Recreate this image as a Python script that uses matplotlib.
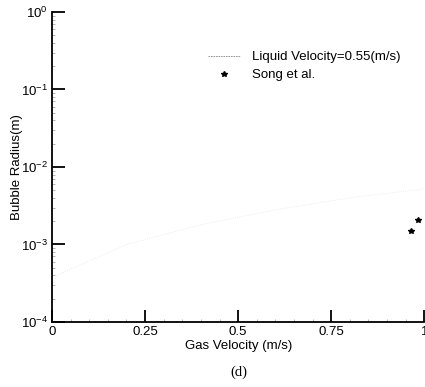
import numpy as np
import matplotlib
matplotlib.use("Agg")
import matplotlib.pyplot as plt
from matplotlib.ticker import LogLocator, LogFormatterMathtext, FixedLocator
from matplotlib.legend_handler import HandlerLine2D

plt.rcParams['font.family'] = ['Liberation Sans', 'DejaVu Sans']
plt.rcParams['mathtext.default'] = 'regular'

# model curve (very faint in the scan)
gas_vel = [0.0, 0.013, 0.2, 0.4, 0.6, 0.815, 1.0]
radius = [3.0e-4, 4.0e-4, 1.0e-3, 1.8e-3, 2.8e-3, 4.1e-3, 5.2e-3]

# Song et al. experiment
song_x = [0.965, 0.984]
song_y = [1.49e-3, 2.08e-3]

xticks = [0, 0.25, 0.5, 0.75, 1]
xticklabels = ['0', '0.25', '0.5', '0.75', '1']


class LeftMarker(HandlerLine2D):
    # marker sits at the left of the legend handle, as in the scan
    def get_xdata(self, legend, xdescent, ydescent, width, height, fontsize):
        xdata, _ = super().get_xdata(legend, xdescent, ydescent, width, height, fontsize)
        return xdata, np.array([-xdescent + 0.15 * width])


fig = plt.figure(figsize=(4.25, 3.87), dpi=100)
ax = fig.add_axes([0.1224, 0.168, 0.876, 0.801])

liq, = ax.plot(gas_vel, radius, color='#e8e8e8', lw=0.6, ls=':',
               label='Liquid Velocity=0.55(m/s)')
song, = ax.plot(song_x, song_y, ls='none', marker='*', ms=4, color='black',
                label='Song et al.')

ax.set_yscale('log')
ax.set_xlim(0, 1)
ax.set_ylim(1e-4, 1)
ax.set_xticks(xticks)
ax.set_xticklabels(xticklabels)
ax.xaxis.set_minor_locator(FixedLocator(np.arange(0.05, 1.0, 0.05)))
ax.yaxis.set_major_locator(LogLocator(base=10, numticks=10))
ax.yaxis.set_major_formatter(LogFormatterMathtext())
ax.yaxis.set_minor_locator(LogLocator(base=10, subs=np.arange(2, 10), numticks=10))

ax.spines['top'].set_visible(False)
ax.spines['right'].set_visible(False)
ax.spines['left'].set_linewidth(1.3)
ax.spines['bottom'].set_linewidth(1.3)
ax.tick_params(which='major', direction='in', length=9, width=1.3, labelsize=9.5)
ax.tick_params(which='minor', direction='in', length=2.5, width=0.5, color='#999999')
ax.tick_params(axis='x', pad=3)
ax.tick_params(axis='y', pad=3)

ax.set_xlabel('Gas Velocity (m/s)', fontsize=9.5, labelpad=1)
ax.set_ylabel('Bubble Radius(m)', fontsize=9.5)
ax.yaxis.set_label_coords(-0.078, 0.5)

leg = ax.legend(handles=[liq, song], loc='upper left',
                bbox_to_anchor=(208 / 425, 1 - 51 / 387), bbox_transform=fig.transFigure,
                frameon=False, fontsize=9.5, borderpad=0, borderaxespad=0,
                handlelength=2.4, handletextpad=0.9, labelspacing=0.45,
                numpoints=1, handler_map={song: LeftMarker()})
leg.get_lines()[0].set_color('#888888')
leg.get_lines()[0].set_linestyle((0, (2, 1)))

fig.text(239 / 425, 0.028, '(d)', fontsize=10.5, family='Liberation Serif', ha='center')

fig.savefig('out.png', dpi=100)
